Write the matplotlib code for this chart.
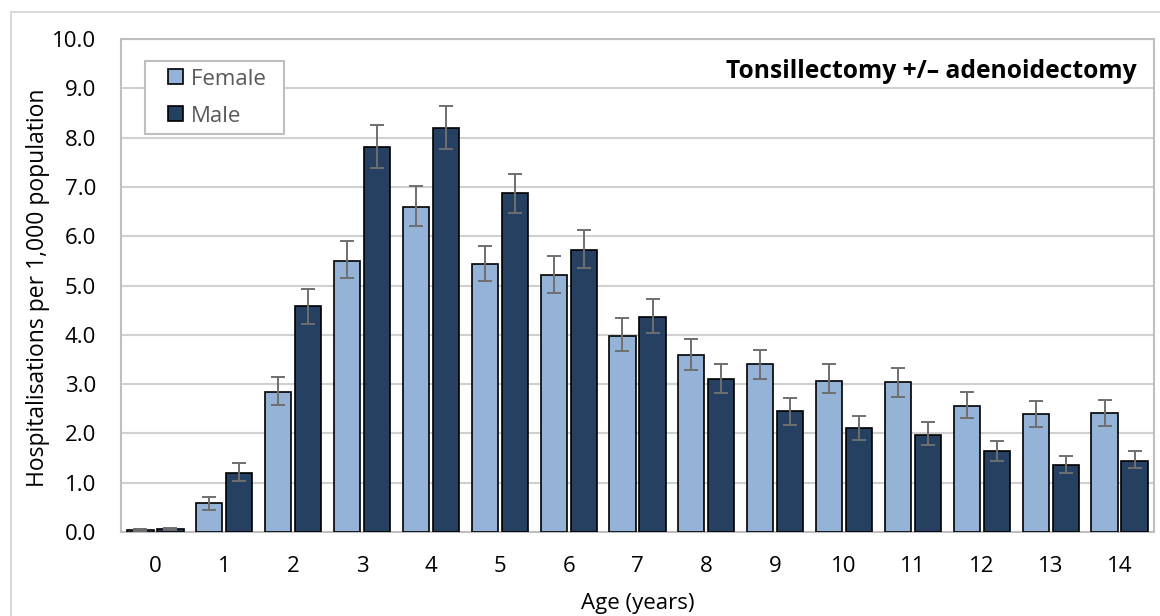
import numpy as np
import matplotlib
matplotlib.use('Agg')
import matplotlib.pyplot as plt
from matplotlib.patches import Rectangle
from matplotlib.container import BarContainer
from matplotlib.legend_handler import HandlerPatch

plt.rcParams['font.family'] = ['Open Sans', 'DejaVu Sans']

ages = ['0', '1', '2', '3', '4', '5', '6', '7', '8', '9', '10', '11', '12', '13', '14']
female = [0.04, 0.58, 2.84, 5.49, 6.60, 5.43, 5.21, 3.98, 3.59, 3.40, 3.07, 3.04, 2.55, 2.39, 2.42]
female_lo = [0.02, 0.44, 2.58, 5.15, 6.21, 5.10, 4.85, 3.68, 3.29, 3.10, 2.81, 2.74, 2.32, 2.12, 2.16]
female_hi = [0.07, 0.70, 3.14, 5.90, 7.02, 5.81, 5.60, 4.34, 3.92, 3.69, 3.40, 3.33, 2.84, 2.65, 2.68]
male = [0.06, 1.19, 4.58, 7.80, 8.19, 6.87, 5.73, 4.37, 3.10, 2.45, 2.10, 1.97, 1.64, 1.35, 1.45]
male_lo = [0.04, 1.03, 4.21, 7.38, 7.77, 6.48, 5.36, 4.04, 2.81, 2.18, 1.87, 1.76, 1.45, 1.19, 1.29]
male_hi = [0.09, 1.39, 4.92, 8.25, 8.64, 7.27, 6.12, 4.73, 3.40, 2.71, 2.35, 2.23, 1.84, 1.54, 1.64]

female = np.array(female)
male = np.array(male)
ferr = [female - np.array(female_lo), np.array(female_hi) - female]
merr = [male - np.array(male_lo), np.array(male_hi) - male]

fig = plt.figure(figsize=(11.6, 6.16), dpi=100)
ax = fig.add_axes([121/1160, 84/616, 1033/1160, 493/616])

x = np.arange(len(ages))
w = 0.38
off = 0.218
ekw = dict(ecolor='#6f6f6f', elinewidth=1.4, capsize=5, capthick=1.4)
ax.bar(x - off, female, w, color='#95b3d7', edgecolor='black', linewidth=1.2,
       yerr=ferr, error_kw=ekw, label='Female  ', zorder=3)
ax.bar(x + off, male, w, color='#254061', edgecolor='black', linewidth=1.2,
       yerr=merr, error_kw=ekw, label='Male', zorder=3)

ax.set_xlim(-0.5, len(ages) - 0.5)
ax.set_ylim(0, 10)
ax.set_yticks(np.arange(0, 10.1, 1.0))
ax.set_yticklabels([f'{v:.1f}' for v in np.arange(0, 10.1, 1.0)])
ax.set_xticks(x)
ax.set_xticklabels(ages)
ax.tick_params(axis='both', length=0, labelsize=16)
ax.tick_params(axis='x', pad=17)
ax.tick_params(axis='y', pad=18)
ax.grid(axis='y', color='#d0d0d0', linewidth=1.5, zorder=0)
ax.set_axisbelow(True)
for s in ax.spines.values():
    s.set_color('#bfbfbf')
    s.set_linewidth(1.5)

ax.set_xlabel('Age (years)', fontsize=16, labelpad=12)
fig.text(38/1160, 1 - 288/616, 'Hospitalisations per 1,000 population',
         rotation=90, ha='center', va='center', fontsize=16.5)
ax.text(0.9836, 0.935, 'Tonsillectomy +/\u2013 adenoidectomy', transform=ax.transAxes,
        ha='right', va='center', fontsize=17.7, fontweight='bold')


# small square on the right side of a wider handle box
def square(legend, orig_handle, xdescent, ydescent, width, height, fontsize):
    side = 15 * 72 / 100
    return Rectangle((width - side - xdescent, (height - side) / 2 - ydescent), side, side)


def from_bar(tgt, src):
    tgt.update_from(src.patches[0])


leg = ax.legend(loc='upper left', bbox_to_anchor=(24/1033, 471/493), borderaxespad=0,
                fontsize=16, frameon=True, fancybox=False, edgecolor='#bfbfbf',
                handlelength=1.35, handleheight=0.68, handletextpad=0.36,
                labelspacing=0.72, borderpad=0.34,
                handler_map={BarContainer: HandlerPatch(patch_func=square, update_func=from_bar)})
leg.get_frame().set_linewidth(1.5)
leg.get_frame().set_alpha(1)
for t in leg.get_texts():
    t.set_color('#595959')

fig.patches.append(Rectangle((11/1160, -0.1), 1.2, 1 - 12/616 + 0.1, transform=fig.transFigure,
                             fill=False, edgecolor='#d9d9d9', linewidth=1.5))

fig.savefig('out.png', dpi=100)
